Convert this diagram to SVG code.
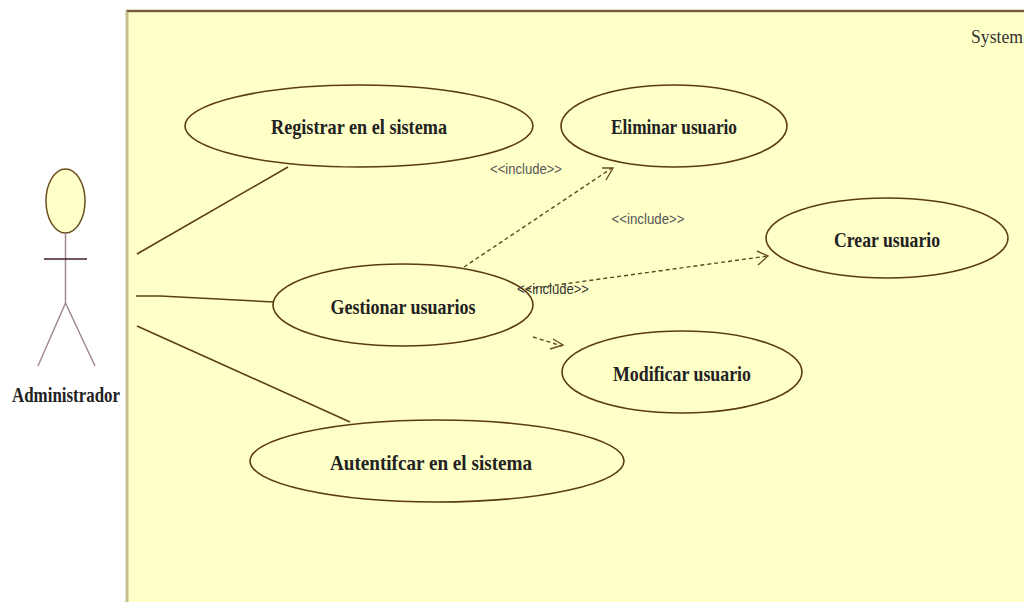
<svg xmlns="http://www.w3.org/2000/svg" width="1024" height="602" viewBox="0 0 1024 602">
<style>
.uc{fill:#ffffc8;stroke:#5a3c10;stroke-width:1.6}
.t{font-family:"Liberation Serif",serif;font-weight:bold;font-size:21px;fill:#222;text-anchor:middle}
.i{font-family:"Liberation Sans",sans-serif;font-size:15px;fill:#555;text-anchor:middle}
.a{stroke:#5a4010;stroke-width:1.6;fill:none}
.d{stroke:#5a4a20;stroke-width:1.4;fill:none;stroke-dasharray:4 3}
.h{stroke:#6a5020;stroke-width:1.4;fill:none}
.ac{stroke:#a08a90;stroke-width:1.5;fill:none}
</style>
<rect width="1024" height="602" fill="#fff"/>
<g id="system">
<rect x="127" y="11" width="900" height="595" fill="#ffffc8"/>
<path d="M127 606V11H1024" fill="none" stroke="#c8bd90" stroke-width="3"/>
<path d="M127 11H1024" fill="none" stroke="#5a3c20" stroke-width="1.5"/>
<text x="997" y="43" font-family="Liberation Serif,serif" font-size="19" fill="#333" text-anchor="middle" textLength="52" lengthAdjust="spacingAndGlyphs">System</text>
</g>
<g id="connectors">
<path class="a" d="M137 254L288 167"/>
<path class="a" d="M136 296L160 296L274 302"/>
<path class="a" d="M137 326L350 422"/>
<path class="d" d="M464 267L612 168"/>
<path class="h" d="M602 168L613 168L606 180"/>
<path class="d" d="M520 290L768 256"/>
<path class="h" d="M757 251L768 256L758 265"/>
<path class="d" d="M533 337L562 346"/>
<path class="h" d="M553 339L563 345L550 349"/>
</g>
<g id="actor">
<ellipse cx="65.500" cy="201" rx="19.500" ry="32" fill="#ffffc8" stroke="#6a5020" stroke-width="1.500"/>
<path class="ac" d="M65.500 233V303M65.500 303L38 366M65.500 303L95 366"/>
<path d="M44 259H87" stroke="#402020" stroke-width="1.500"/>
<text class="t" x="66" y="402" textLength="108" lengthAdjust="spacingAndGlyphs">Administrador</text>
</g>
<g id="registrar"><ellipse class="uc" cx="359" cy="126" rx="174" ry="41"/><text class="t" x="359" y="134" textLength="176" lengthAdjust="spacingAndGlyphs">Registrar en el sistema</text></g>
<g id="eliminar"><ellipse class="uc" cx="674" cy="126" rx="113" ry="41"/><text class="t" x="674" y="134" textLength="126" lengthAdjust="spacingAndGlyphs">Eliminar usuario</text></g>
<g id="crear"><ellipse class="uc" cx="887" cy="238" rx="121" ry="40"/><text class="t" x="887" y="247" textLength="106" lengthAdjust="spacingAndGlyphs">Crear usuario</text></g>
<g id="gestionar"><ellipse class="uc" cx="403" cy="305" rx="130" ry="41"/><text class="t" x="403" y="314" textLength="145" lengthAdjust="spacingAndGlyphs">Gestionar usuarios</text></g>
<g id="modificar"><ellipse class="uc" cx="682" cy="372" rx="120" ry="41"/><text class="t" x="682" y="381" textLength="138" lengthAdjust="spacingAndGlyphs">Modificar usuario</text></g>
<g id="autenticar"><ellipse class="uc" cx="437" cy="461" rx="187" ry="41"/><text class="t" x="431" y="470" textLength="202" lengthAdjust="spacingAndGlyphs">Autentifcar en el sistema</text></g>
<g id="labels">
<text class="i" x="526" y="174" textLength="72" lengthAdjust="spacingAndGlyphs">&lt;&lt;include&gt;&gt;</text>
<text class="i" x="648" y="224" textLength="73" lengthAdjust="spacingAndGlyphs">&lt;&lt;include&gt;&gt;</text>
<text class="i" x="553" y="294" textLength="72" lengthAdjust="spacingAndGlyphs" style="fill:#333">&lt;&lt;include&gt;&gt;</text>
</g>
</svg>
